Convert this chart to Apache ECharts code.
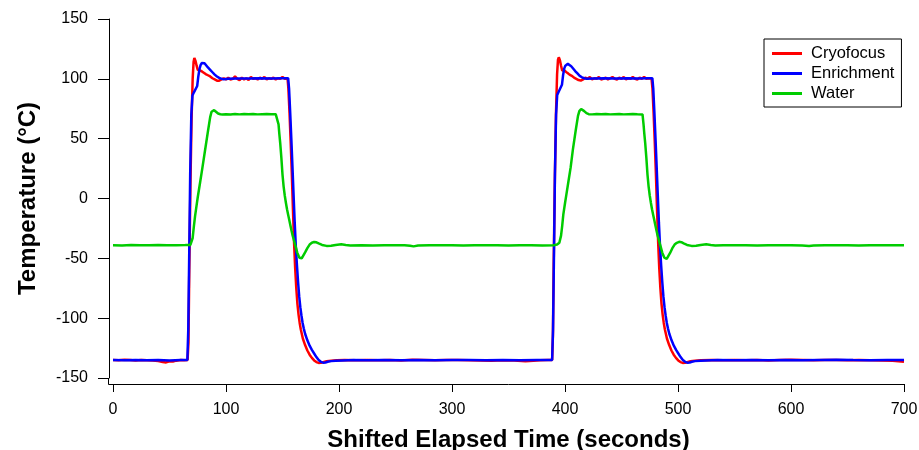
<!DOCTYPE html>
<html>
<head>
<meta charset="utf-8">
<script src="https://cdn.jsdelivr.net/npm/echarts@6/dist/echarts.min.js"></script>
<style>
html,body{margin:0;padding:0;background:#fff;}
#chart{width:919px;height:450px;}
</style>
</head>
<body>
<div id="chart"></div>
<script>
// ---- data: [time (s), temperature (°C)] ----
const seriesNames = ['Cryofocus', 'Enrichment', 'Water'];
const xTicks = [0, 100, 200, 300, 400, 500, 600, 700];
const yTicks = [-150, -100, -50, 0, 50, 100, 150];

const cryofocus = [
[0,-135],[5,-135.2],[10,-134.8],[15,-135],[20,-135.3],[25,-134.9],[30,-135.1],[35,-135.4],[40,-135.8],[44,-136.6],[47,-137],[50,-136],[53,-136.3],[56,-135.5],[60,-135],[63,-135.2],[66,-135],
[66.8,-120],[67.5,-60],[68.5,10],[69.5,65],[70.5,100],[71.3,114],[72,117.5],[73,115],[74,111],[75,107.5],[76,106],[77,107],[78,107.5],[79,106],[80,105],[82,104],[84,103],[86,102],[88,100.5],[90,99.5],[92,98.5],[93,97.5],[94,98.5],[95,100],[96,99.5],[98,100.5],[100,99.5],[102,101],[104,99.5],[106,100],[108,102],[110,100],[112,99],[114,101],[116,99.5],[118,100.5],[120,99],[122,101.5],[124,100],[126,100.5],[128,99.5],[130,101],[132,100],[134,101.5],[136,99.5],[138,100.5],[140,100],[142,101],[144,99.5],[146,100.5],[148,100],[150,101.5],[152,100],[153.5,101],[154.5,100],
[155.2,92],[156.2,72],[157.2,48],[158.2,22],[159.2,-8],[160.2,-36],[161.2,-58],[162.2,-75],[163.2,-88],[164.2,-97],[165.2,-104],[166.2,-109.5],[168,-117],[170,-122.5],[172,-127],[174,-130.5],[176,-133.2],[178,-135.3],[180,-136.7],[182,-137.4],[184,-137.3],[186,-136.8],[189,-135.9],[193,-135.5],[198,-135.2],[205,-135],[215,-135.2],[225,-134.9],[235,-135.1],[245,-135],[255,-135.3],[265,-134.8],[275,-135],[285,-135.2],[295,-135],[305,-134.9],[315,-135.1],[325,-135.3],[335,-135.6],[345,-135.2],[355,-135.4],[365,-135.9],[372,-135.6],[378,-135.2],[385,-135],[388.6,-135],
[389.3,-115],[390,-55],[391,15],[392,70],[393,104],[393.8,116],[394.5,118],[395.5,115.5],[396.5,111],[397.5,107],[398.5,106],[399.5,107],[400.5,106.5],[402,105],[404,103.5],[406,102.5],[408,101],[410,100],[412,99],[414,98.5],[416,99.5],[418,101],[420,100],[422,101.5],[424,99.5],[426,100.5],[428,100],[430,101.5],[432,99.5],[434,100],[436,101],[438,99.5],[440,100.5],[442,101.5],[444,100],[446,99.5],[448,101],[450,100],[452,101.5],[454,99.5],[456,100.5],[458,100],[460,101.5],[462,100],[464,99.5],[466,101],[468,100],[470,101.5],[472,100],[474,100.5],[476.6,100],
[477.4,92],[478.4,72],[479.4,48],[480.4,22],[481.4,-8],[482.4,-36],[483.4,-58],[484.4,-75],[485.4,-88],[486.4,-97],[487.4,-104],[488.4,-109.5],[490.2,-117],[492.2,-122.5],[494.2,-127],[496.2,-130.5],[498.2,-133.2],[500.2,-135.3],[502.2,-136.7],[504.2,-137.4],[506.2,-137.3],[508.2,-136.8],[511,-135.9],[515,-135.5],[520,-135.2],[530,-135],[540,-135.2],[550,-134.9],[560,-135.1],[570,-135],[580,-135.3],[590,-135],[600,-134.8],[610,-135],[620,-135.2],[630,-135],[640,-134.9],[650,-135.1],[660,-135],[670,-135.2],[680,-135.4],[690,-135.5],[695,-136],[700,-136.5]
];

const enrichment = [
[0,-135],[10,-135.2],[20,-134.9],[30,-135.1],[40,-135],[50,-135.3],[60,-135],[65.8,-135],
[66.6,-110],[67.4,-50],[68.3,20],[69.3,70],[70.3,86],[71.5,88.5],[73,90],[74.5,94],[75.5,102],[76.5,108],[77.5,111.5],[78.5,113.2],[79.5,113.6],[81,113],[82.5,111.5],[84,109.5],[86,107.5],[88,105.5],[90,103.5],[92,102],[94,100.8],[96,100],[98,99.7],[102,100],[110,100.3],[120,100.2],[130,100.5],[140,100.3],[150,100.5],[155,100.5],
[155.8,92],[156.8,72],[157.8,50],[158.8,27],[159.8,3],[160.8,-20],[161.8,-40],[162.8,-56],[163.8,-70],[164.8,-82],[165.8,-91],[166.8,-98],[167.8,-104],[168.8,-108.5],[170,-113],[172,-118.5],[174,-123],[176,-126.5],[178,-129.5],[180,-132.5],[182,-135],[184,-136.5],[186,-137.2],[188,-137],[190,-136.4],[193,-135.9],[197,-135.6],[203,-135.3],[213,-135],[225,-135.2],[240,-134.9],[255,-135.1],[270,-135],[285,-135.2],[300,-135],[315,-134.9],[330,-135.1],[345,-135],[360,-135.2],[375,-135],[388.6,-135],
[389.4,-110],[390.2,-50],[391.1,20],[392.1,70],[393.1,86.5],[394.3,89],[395.8,90.5],[397.3,95],[398.3,103],[399.3,108.5],[400.3,111],[401.3,112.3],[402.5,112.5],[404,111.8],[405.5,110.5],[407,108.8],[409,106.5],[411,104.5],[413,102.5],[415,101.3],[417,100.5],[419,100],[425,100.2],[435,100.4],[445,100.2],[455,100.5],[465,100.3],[472,100.5],[477.3,100.5],
[478.1,92],[479.1,72],[480.1,50],[481.1,27],[482.1,3],[483.1,-20],[484.1,-40],[485.1,-56],[486.1,-70],[487.1,-82],[488.1,-91],[489.1,-98],[490.1,-104],[491.1,-108.5],[492.3,-113],[494.3,-118.5],[496.3,-123],[498.3,-126.5],[500.3,-129.5],[502.3,-132.5],[504.3,-135],[506.3,-136.5],[508.3,-137.2],[510.3,-137],[512.3,-136.4],[515,-135.9],[520,-135.6],[525,-135.3],[535,-135],[550,-135.2],[565,-134.9],[580,-135.1],[595,-135],[610,-135.2],[625,-135],[640,-134.8],[655,-135],[670,-135.1],[685,-135],[700,-135]
];

const water = [
[0,-39],[8,-39.2],[16,-38.9],[24,-39.1],[32,-39],[40,-38.8],[48,-39.1],[56,-39],[64,-38.9],[68.5,-38.8],
[69.5,-38],[70.5,-33],[71.5,-24],[72.6,-15],[74,-5.5],[75,1],[77,13],[79,25],[81.5,40.5],[84,56],[86,68],[87.2,72.5],[88.3,74],[89.5,73.8],[91,72.5],[93,71],[95,70.4],[97,70.2],[100,70.5],[104,70.2],[108,70.6],[112,70.3],[116,70.7],[120,70.4],[124,70.6],[128,70.3],[132,70.5],[136,70.6],[140,70.4],[144,70.5],[145.6,70.2],
[146.5,62],[147.2,54],[148,46],[149,34],[150,20],[151,10],[152,2.5],[153,-3.5],[154,-9],[155,-13.5],[156,-18],[157,-22.5],[158,-27],[159,-31],[160,-34.5],[161,-38],[162,-41.5],[163,-45],[164,-47.5],[165,-49.5],[166,-50.5],[167,-50],[168,-48.5],[170,-45],[172,-41.5],[174,-38.5],[176,-37],[178,-36.3],[180,-36.6],[182,-37.5],[185,-38.8],[189,-39.6],[193,-39.5],[197,-38.8],[202,-38.3],[206,-38.8],[210,-39.2],[220,-39],[230,-39.2],[240,-39],[250,-39.1],[258,-39],[263,-39.5],[266,-40],[270,-39.3],[280,-39],[290,-39.1],[300,-39],[310,-39.2],[320,-39],[330,-39.1],[340,-39],[350,-39.2],[360,-39.1],[370,-39],[380,-39.2],[390,-39],
[393,-38.5],[395,-37],[396.5,-31],[397.5,-23],[398.5,-13.5],[400,-4],[401,2],[403,14],[405,26],[407,41],[409.5,57],[411.5,69],[412.7,73],[414.3,74.8],[415.5,74.5],[417,73],[419,71.3],[421,70.5],[424,70.3],[428,70.6],[432,70.4],[436,70.7],[440,70.3],[444,70.5],[448,70.6],[452,70.3],[456,70.5],[460,70.7],[464,70.4],[468.6,70.2],
[469.5,62],[470.2,54],[471,46],[472,34],[473,20],[474,10],[475,2.5],[476,-3.5],[477,-9],[478,-13.5],[479,-18],[480,-22.5],[481,-27],[482,-31],[483,-34.5],[484,-38],[485,-41.5],[486,-45],[487,-47.5],[488,-49.5],[489,-50.8],[490,-50.5],[491,-49],[493,-45.5],[495,-41.5],[497,-38.5],[499,-37],[501,-36.2],[503,-36.5],[505,-37.5],[508,-38.8],[512,-39.6],[516,-39.4],[520,-38.8],[525,-38.3],[529,-38.8],[533,-39.2],[540,-39],[550,-39.1],[560,-39],[570,-39.2],[580,-39],[590,-39.1],[600,-39],[610,-39.2],[616,-39.6],[620,-39.3],[630,-39],[640,-39.1],[650,-39],[660,-39.2],[670,-39],[680,-39.1],[690,-39],[700,-39.1]
];

const seriesColors = ['#ff0000', '#0000ff', '#00cc00'];
const seriesData = [cryofocus, enrichment, water];

const chart = echarts.init(document.getElementById('chart'), null, {renderer: 'canvas'});
const font = 'Arial, "Liberation Sans", sans-serif';

const option = {
  animation: false,
  backgroundColor: '#ffffff',
  grid: {left: 113, right: 15, top: 19, bottom: 72, containLabel: false, outerBoundsMode: 'none'},
  xAxis: {
    type: 'value', min: xTicks[0], max: xTicks[xTicks.length - 1], interval: 100,
    offset: 6,
    name: 'Shifted Elapsed Time (seconds)', nameLocation: 'middle', nameGap: 44,
    nameTextStyle: {fontFamily: font, fontWeight: 'bold', fontSize: 24, color: '#000'},
    axisLine: {show: true, onZero: false, lineStyle: {color: '#000', width: 1}},
    axisTick: {show: true, inside: false, length: 8, lineStyle: {color: '#000'}},
    axisLabel: {fontFamily: font, fontSize: 16, color: '#000', margin: 18},
    splitLine: {show: false}
  },
  yAxis: {
    type: 'value', min: yTicks[0], max: yTicks[yTicks.length - 1], interval: 50,
    offset: 4,
    name: 'Temperature (\u00B0C)', nameLocation: 'middle', nameGap: 69, nameRotate: 90,
    nameTextStyle: {fontFamily: font, fontWeight: 'bold', fontSize: 24, color: '#000'},
    axisLine: {show: true, onZero: false, lineStyle: {color: '#000', width: 1}},
    axisTick: {show: true, inside: false, length: 11, lineStyle: {color: '#000'}},
    axisLabel: {fontFamily: font, fontSize: 16, color: '#000', margin: 21},
    splitLine: {show: false}
  },
  legend: {
    orient: 'vertical', left: 764, top: 39,
    padding: [6, 7, 5, 8],
    itemGap: 3, itemWidth: 30, itemHeight: 3, icon: 'rect',
    borderColor: '#000', borderWidth: 1, backgroundColor: '#fff',
    textStyle: {fontFamily: font, fontSize: 16.5, color: '#000', lineHeight: 16, padding: [0, 0, 0, 4]},
    data: seriesNames
  },
  graphic: [{
    type: 'polyline', silent: true,
    shape: {points: [[108.5, 378], [108.5, 384.5], [113, 384.5]]},
    style: {stroke: '#000', lineWidth: 1, fill: null}
  }],
  series: seriesNames.map((n, i) => ({
    name: n, type: 'line', data: seriesData[i],
    symbol: 'none', showSymbol: false, smooth: false,
    lineStyle: {color: seriesColors[i], width: 2.5},
    itemStyle: {color: seriesColors[i]}
  }))
};
chart.setOption(option);
</script>
</body>
</html>
